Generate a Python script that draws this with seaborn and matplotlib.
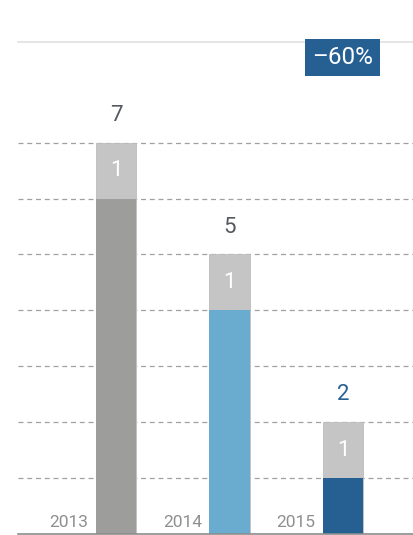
import pandas as pd
import matplotlib.pyplot as plt
import seaborn as sns

# data
years = ["2013", "2014", "2015"]
base = [6, 4, 1]
extra = [1, 1, 1]
base_colors = ["#9d9d9c", "#6aabd0", "#266093"]
total_colors = ["#555a60", "#555a60", "#266093"]
change_label = "–60%"

df = pd.DataFrame({"Year": years, "Base": base, "Extra": extra})
df["Total"] = df["Base"] + df["Extra"]

sns.set_style("white")
plt.rcParams["font.family"] = ["Roboto", "DejaVu Sans"]

fig = plt.figure(figsize=(4.13, 5.35), dpi=100)
ax = fig.add_axes([18 / 413, 1 / 535, 1 - 18 / 413, 492 / 535])

# full stack in light gray, base part drawn on top
sns.barplot(data=df, x="Year", y="Total", color="#c5c5c5", width=0.36,
            saturation=1, edgecolor="#bdbdbd", linewidth=0.6, ax=ax)
sns.barplot(data=df, x="Year", y="Base", hue="Year", palette=base_colors,
            width=0.36, saturation=1, legend=False, linewidth=0, ax=ax)

ax.set_xlim(-0.863, 2.617)
ax.set_ylim(0, 8.8)
ax.set_xlabel("")
ax.set_ylabel("")
ax.set_xticks([])
ax.set_yticks([])

for y in range(1, 8):
    ax.axhline(y, color="#a0a0a0", lw=0.9, ls=(0, (4, 3)), zorder=0)

for s in ["left", "right"]:
    ax.spines[s].set_visible(False)
ax.spines["top"].set_color("#e0e0e0")
ax.spines["top"].set_linewidth(1.2)
ax.spines["bottom"].set_color("#8c8c8c")
ax.spines["bottom"].set_linewidth(1.2)

for i, row in df.iterrows():
    ax.text(i, row["Total"] + 0.3, str(row["Total"]), ha="center", va="bottom",
            fontsize=16, color=total_colors[i])
    ax.text(i, row["Base"] + row["Extra"] / 2, str(row["Extra"]), ha="center",
            va="center", fontsize=16, color="white")
    ax.text(i - 0.24, 0.08, row["Year"], ha="right", va="bottom",
            fontsize=12.5, color="#8f8f8f")

ax.text(1.995, 8.52, change_label, ha="center", va="center", fontsize=17.5,
        color="white",
        bbox=dict(boxstyle="square,pad=0.28", fc="#266093", ec="none"))

fig.savefig("out.png", dpi=100)
